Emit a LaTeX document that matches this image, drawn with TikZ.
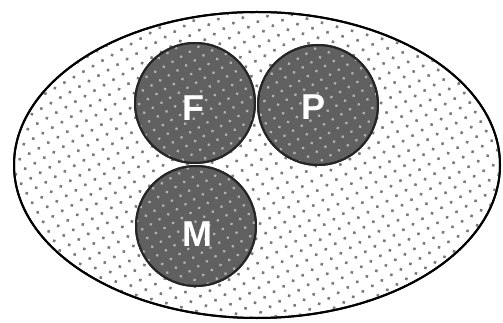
\documentclass[tikz,border=0pt]{standalone}
\usepackage{fontspec}
\setmainfont{Liberation Sans}
\usetikzlibrary{patterns.meta}
\definecolor{dotgray}{HTML}{7A7A7A}
\definecolor{circfill}{HTML}{606060}
\definecolor{circdot}{HTML}{B0B0B0}
\tikzset{
  outer/.style={draw=black, line width=2pt, fill=white},
  outerdots/.style={pattern={Dots[radius=1.8pt, distance=11pt, angle=30]}, pattern color=dotgray},
  setcirc/.style={draw=black!85, line width=2pt, fill=circfill},
  circdots/.style={pattern={Dots[radius=1.6pt, distance=10pt, angle=30]}, pattern color=circdot},
  lbl/.style={text=white, font=\fontsize{36}{40}\selectfont\bfseries, inner sep=0pt}
}
\begin{document}
\begin{tikzpicture}[x=1pt, y=-1pt]
\useasboundingbox (0,0) rectangle (503,323);
\fill[white] (0,0) rectangle (503,323);
% outer ellipse
\coordinate (U) at (257,165);
\path[outer] (U) ellipse [x radius=243, y radius=153];
\path[outerdots] (U) ellipse [x radius=242, y radius=152];
\draw[line width=2pt] (U) ellipse [x radius=243, y radius=153];
% circles
\coordinate (cF) at (195,103);
\coordinate (cP) at (318,105);
\coordinate (cM) at (196,226);
\foreach \c in {cF,cP,cM}{
  \path[setcirc] (\c) circle [radius=60];
  \path[circdots] (\c) circle [radius=59];
  \draw[black!85, line width=2pt] (\c) circle [radius=60];
}
\node[lbl] (F) at (193,108) {F};
\node[lbl] (P) at (314,107) {P};
\node[lbl] (M) at (197,234) {M};
\end{tikzpicture}
\end{document}
